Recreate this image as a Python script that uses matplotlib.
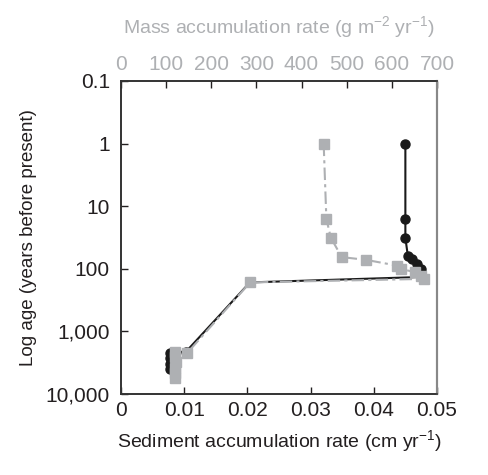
import matplotlib
matplotlib.use("Agg")
import matplotlib.pyplot as plt
from matplotlib.ticker import FixedLocator, FixedFormatter, NullLocator

plt.rcParams['font.family'] = ['Liberation Sans', 'DejaVu Sans']
plt.rcParams['mathtext.fontset'] = 'custom'
plt.rcParams['mathtext.rm'] = 'Liberation Sans'
plt.rcParams['mathtext.it'] = 'Liberation Sans'
plt.rcParams['mathtext.sf'] = 'Liberation Sans'

# sediment accumulation rate (cm/yr), black circles
sed_age = [1, 16, 32, 63, 70, 85, 100, 135, 165, 2100, 2250, 2700, 3300, 4000]
sed_rate = [0.045, 0.045, 0.045, 0.0454, 0.0461, 0.0469, 0.0475, 0.0477, 0.0204,
            0.0103, 0.0078, 0.0077, 0.0077, 0.0078]

# mass accumulation rate (g m-2 yr-1), grey squares
mass_age = [1, 16, 32, 65, 72, 89, 100, 114, 129, 145, 165, 2200,
            2150, 2600, 3100, 3800, 4600, 5500]
mass_rate = [449, 455, 465, 489, 543, 612, 620, 652, 665, 671, 286, 147,
             119, 120, 121, 120, 119, 120]

yticks = [0.1, 1, 10, 100, 1000, 10000]
ylabels = ['0.1', '1', '10', '100', '1,000', '10,000']
xticks = [0, 0.01, 0.02, 0.03, 0.04, 0.05]
xlabels = ['0', '0.01', '0.02', '0.03', '0.04', '0.05']
mticks = [0, 100, 200, 300, 400, 500, 600, 700]

GREY = '#aeb0b3'
TXT = '#231f20'

fig = plt.figure(figsize=(4.89, 4.75), dpi=100)
ax = fig.add_axes([0.2474, 0.1705, 0.6462, 0.659])

ax.plot(sed_rate, sed_age, '-o', color='#1a1a1a', lw=1.5, ms=6.5, zorder=3)
ax.set_yscale('log')
ax.set_ylim(10000, 0.1)
ax.set_xlim(0, 0.05)
ax.yaxis.set_major_locator(FixedLocator(yticks))
ax.yaxis.set_major_formatter(FixedFormatter(ylabels))
ax.yaxis.set_minor_locator(NullLocator())
ax.set_xticks(xticks)
ax.set_xticklabels(xlabels)
ax.tick_params(direction='in', length=5, width=1, labelsize=15, colors=TXT,
               top=False, right=False)
ax.tick_params(axis='y', pad=8)
ax.tick_params(axis='x', pad=5)
ax.set_xlabel('Sediment accumulation rate (cm yr$^{-1}$)', fontsize=14, color=TXT, labelpad=6)
ax.set_ylabel('Log age (years before present)', fontsize=13.5, color=TXT, labelpad=6)

ax2 = ax.twiny()
ax2.plot(mass_rate, mass_age, color=GREY, lw=1.5, ls=(0, (6, 2, 1.5, 2)),
         marker='s', ms=7.5, mec=GREY, mfc=GREY)
ax2.set_xlim(0, 700)
ax2.set_xticks(mticks)
ax2.tick_params(direction='in', length=5, width=1, labelsize=15, labelcolor=GREY,
                color=TXT, pad=5)
ax2.set_xlabel('Mass accumulation rate (g m$^{-2}$ yr$^{-1}$)', fontsize=14, color=GREY, labelpad=16)

for a in (ax, ax2):
    for s in ['left', 'bottom', 'top']:
        a.spines[s].set_color('#333333')
        a.spines[s].set_linewidth(1.2)
    a.spines['right'].set_color('#888888')
    a.spines['right'].set_linewidth(1.5)

fig.savefig('out.png', dpi=100)
